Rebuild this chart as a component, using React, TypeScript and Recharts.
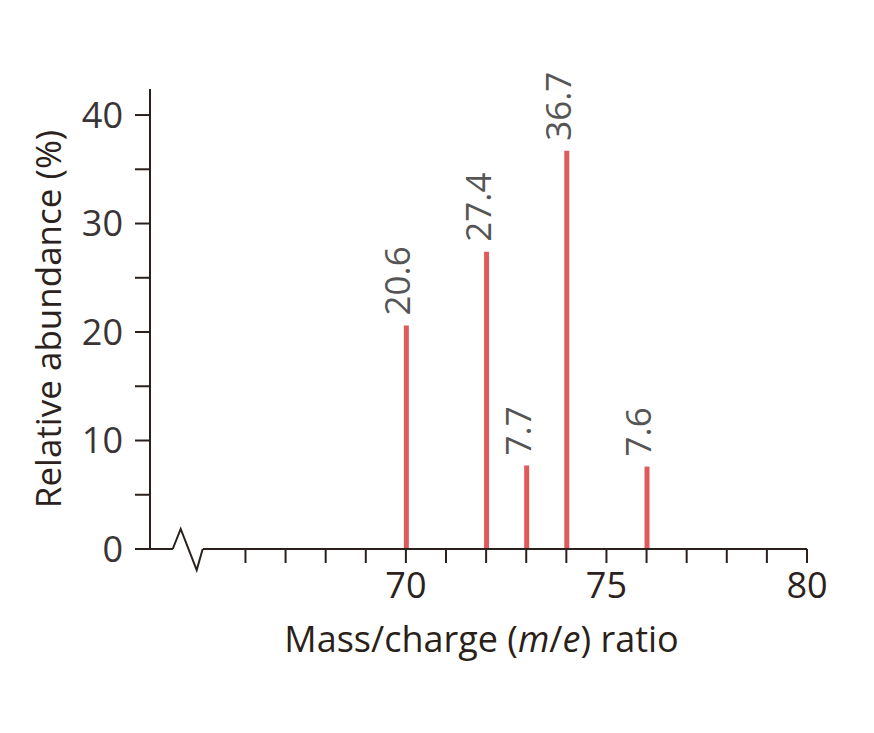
import { BarChart, Bar, XAxis, YAxis, LabelList, ReferenceLine, ReferenceDot, Label } from 'recharts';

// Isotope peaks: mass/charge ratio and relative abundance (%)
const masses = [70, 72, 73, 74, 76];
const abundances = [20.6, 27.4, 7.7, 36.7, 7.6];

const xTicks = [66, 67, 68, 69, 70, 71, 72, 73, 74, 75, 76, 77, 78, 79, 80];
const xLabelled = [70, 75, 80];
const yTicks = [0, 5, 10, 15, 20, 25, 30, 35, 40];
const yLabelled = [0, 10, 20, 30, 40];

const data = masses.map((mass, i) => ({ mass, abundance: abundances[i] }));

const FONT = "'Open Sans', sans-serif";
const AXIS = '#2a211d';
const BAR = '#e05a5c';

// value label drawn vertically above each peak
const PeakLabel = (props: any) => {
  const { x, y, width, value } = props;
  const cx = x + width / 2 + 4;
  const cy = y - 10;
  return (
    <text
      x={cx}
      y={cy}
      transform={`rotate(-90, ${cx}, ${cy})`}
      textAnchor="start"
      fontSize={35}
      fontFamily={FONT}
      fill="#555"
    >
      {value}
    </text>
  );
};

// x axis title, with m and e in italics
const XTitle = (props: any) => {
  const { x, y, width, height } = props.viewBox;
  return (
    <text
      x={x + width / 2 + 3}
      y={y + height - 7}
      textAnchor="middle"
      fontSize={36}
      fontFamily={FONT}
      fill="#2b1f1a"
    >
      Mass/charge (<tspan fontStyle="italic">m</tspan>/<tspan fontStyle="italic">e</tspan>) ratio
    </text>
  );
};

// the axis break zigzag
const Zigzag = (props: any) => {
  const { cx, cy } = props;
  return (
    <path
      d={`M${cx - 15},${cy} L${cx - 7},${cy - 20} L${cx + 9},${cy + 21} L${cx + 15},${cy}`}
      fill="none"
      stroke={AXIS}
      strokeWidth={2}
    />
  );
};

export default function App() {
  return (
    <BarChart
      width={866}
      height={700}
      data={data}
      margin={{ top: 81, right: 67, bottom: 49, left: 0 }}
    >
      <XAxis
        dataKey="mass"
        type="number"
        domain={[63.62, 80]}
        ticks={xTicks}
        interval={0}
        axisLine={false}
        tickLine={{ stroke: AXIS, strokeWidth: 2 }}
        tickSize={14}
        tickMargin={9}
        tickFormatter={(v: number) => (xLabelled.includes(v) ? String(v) : '')}
        tick={{ fontSize: 36, fontFamily: FONT, fill: '#2b2220' }}
        height={110}
      >
        <Label content={XTitle} />
      </XAxis>
      <YAxis
        type="number"
        domain={[0, 42.4]}
        ticks={yTicks}
        interval={0}
        width={142}
        axisLine={{ stroke: AXIS, strokeWidth: 2 }}
        tickLine={{ stroke: AXIS, strokeWidth: 2 }}
        tickSize={15}
        tickMargin={12}
        tickFormatter={(v: number) => (yLabelled.includes(v) ? String(v) : '')}
        tick={{ fontSize: 36, fontFamily: FONT, fill: '#3a3434' }}
        label={{
          value: 'Relative abundance (%)',
          angle: -90,
          position: 'insideLeft',
          offset: 41,
          fontSize: 35,
          fontFamily: FONT,
          fill: '#2b2220',
          style: { textAnchor: 'middle' },
        }}
      />
      <ReferenceLine
        segment={[{ x: 63.62, y: 0 }, { x: 64.19, y: 0 }]}
        stroke={AXIS}
        strokeWidth={2}
      />
      <ReferenceLine
        segment={[{ x: 64.94, y: 0 }, { x: 80, y: 0 }]}
        stroke={AXIS}
        strokeWidth={2}
      />
      <ReferenceDot x={64.56} y={0} r={0} shape={Zigzag} />
      <Bar dataKey="abundance" fill={BAR} barSize={5} isAnimationActive={false}>
        <LabelList dataKey="abundance" content={PeakLabel} />
      </Bar>
    </BarChart>
  );
}
